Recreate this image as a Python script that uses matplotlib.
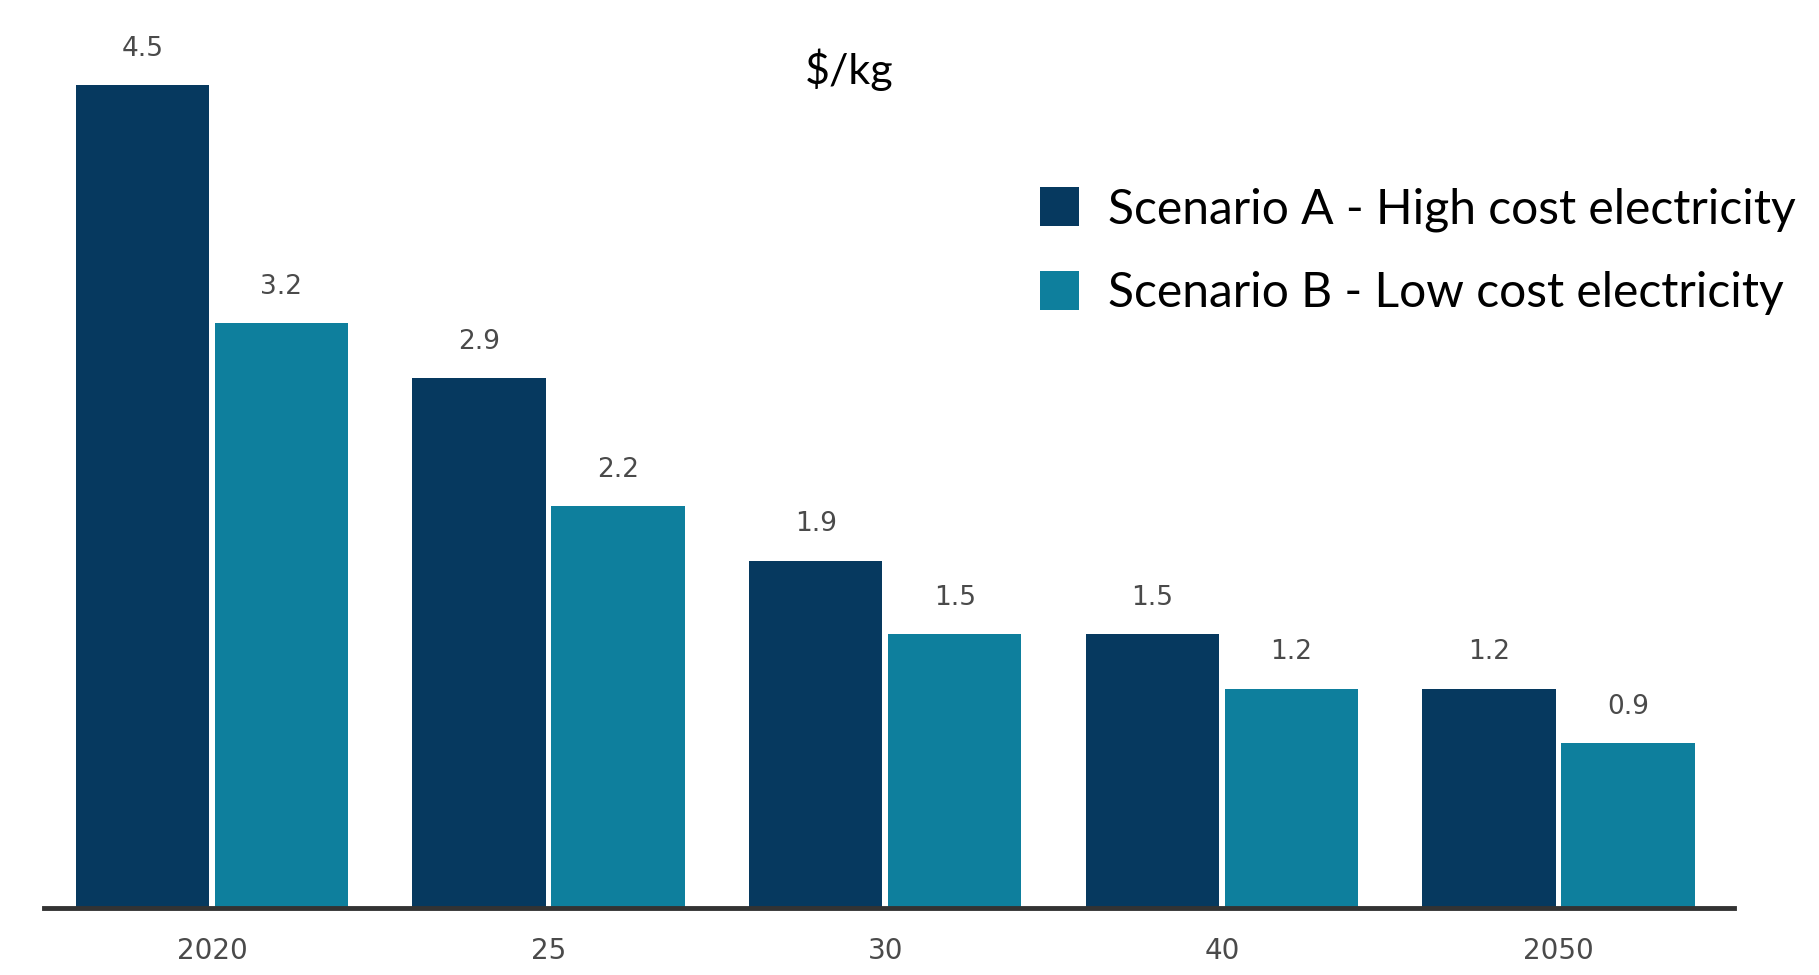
import matplotlib.pyplot as plt
import numpy as np

# Hydrogen cost projection, $/kg
years = ["2020", "25", "30", "40", "2050"]
scenario_a = [4.5, 2.9, 1.9, 1.5, 1.2]
scenario_b = [3.2, 2.2, 1.5, 1.2, 0.9]
labels = ["Scenario A - High cost electricity", "Scenario B - Low cost electricity"]

color_a = "#06395f"
color_b = "#0e7f9d"

fig = plt.figure(figsize=(18.19, 9.75), dpi=100)
ax = fig.add_axes([0.024, 0.0687, 0.929, 0.9313])

x = np.arange(len(years))
w = 0.396
off = 0.2065
bars_a = ax.bar(x - off, scenario_a, w, color=color_a, label=labels[0])
bars_b = ax.bar(x + off, scenario_b, w, color=color_b, label=labels[1])

for bars, vals in ((bars_a, scenario_a), (bars_b, scenario_b)):
    for b, v in zip(bars, vals):
        ax.annotate(f"{v:.1f}", (b.get_x() + b.get_width() / 2, v),
                    xytext=(0, 26), textcoords="offset points",
                    ha="center", va="center", fontsize=19, color="#4a4a4a")

ax.set_xlim(-0.5, 4.52)
ax.set_ylim(0, 4.965)
ax.set_xticks(x)
ax.set_xticklabels(years, fontsize=20, color="#4a4a4a")
ax.tick_params(axis="x", length=0, pad=21)
ax.set_yticks([])
for s in ("top", "right", "left"):
    ax.spines[s].set_visible(False)
ax.spines["bottom"].set_color("#333333")
ax.spines["bottom"].set_linewidth(3.5)

fig.text(0.467, 0.928, "$/kg", ha="center", va="center", fontsize=31,
         family="Lato")

ax.legend(loc="upper left", bbox_to_anchor=(0.572, 0.808),
          bbox_transform=fig.transFigure, frameon=False,
          prop={"family": "Lato", "size": 34.6}, handlelength=0.8,
          handleheight=0.85, handletextpad=0.6, labelspacing=0.82,
          borderaxespad=0, borderpad=0)

fig.savefig("out.png", dpi=100)
